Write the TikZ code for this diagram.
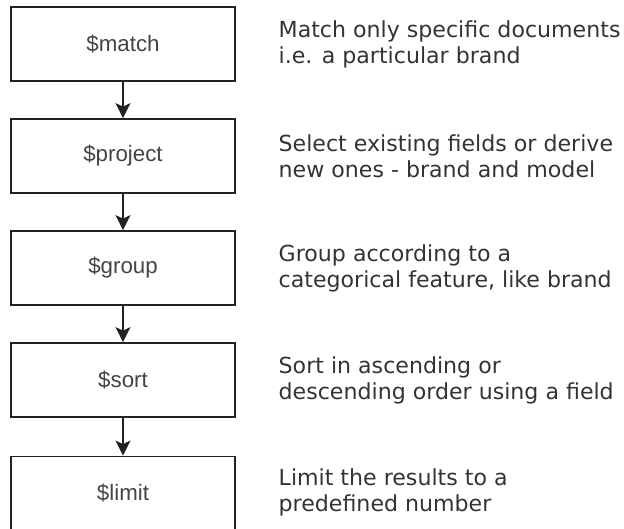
\documentclass[tikz,border=0pt]{standalone}
\usepackage{fontspec}
\setmainfont{DejaVu Sans}
\newfontfamily\boxfont{Liberation Sans}
\usetikzlibrary{arrows.meta}
\definecolor{edge}{HTML}{222222}
\definecolor{boxtxt}{HTML}{444444}
\definecolor{desctxt}{HTML}{333333}
\begin{document}
\begin{tikzpicture}[x=1pt,y=-1pt,
  stage/.style={draw=edge, line width=1.8pt, fill=white, minimum width=224pt, minimum height=74pt,
    inner sep=0pt, font=\boxfont\fontsize{22.3}{26}\selectfont, text=boxtxt},
  desc/.style={anchor=west, align=left, inner sep=0pt, font=\fontsize{22.1}{26}\selectfont, text=desctxt},
  flow/.style={draw=edge, line width=1.8pt, -{Stealth[length=15pt,width=15pt,inset=3.5pt]}}]
\useasboundingbox (0,0) rectangle (624,528);
\node[stage] (m) at (123,44) {\$match};
\node[stage] (p) at (123,156) {\$project};
\node[stage] (g) at (123,268) {\$group};
\node[stage] (s) at (123,380) {\$sort};
\node[stage] (l) at (123,493.5) {\$limit};
\draw[flow] (m) -- (p);
\draw[flow] (p) -- (g);
\draw[flow] (g) -- (s);
\draw[flow] (s) -- (l);
\node[desc] (dm) at (278.5,44) {Match only specific documents\\i.e. a particular brand};
\node[desc] (dp) at (278.5,156) {Select existing fields or derive\\new ones - brand and model};
\node[desc] (dg) at (278.5,268) {Group according to a\\categorical feature, like brand};
\node[desc] (ds) at (278.5,380) {Sort in ascending or\\descending order using a field};
\node[desc] (dl) at (278.5,492) {Limit the results to a\\predefined number};
\end{tikzpicture}
\end{document}
